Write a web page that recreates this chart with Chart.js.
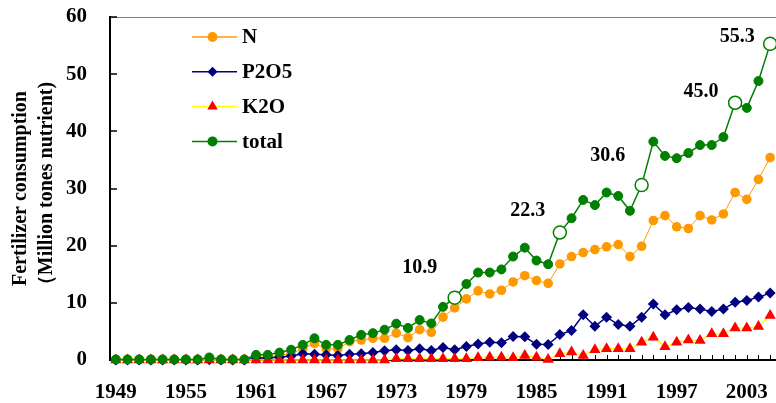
<!DOCTYPE html>
<html>
<head>
<meta charset="utf-8">
<script src="https://cdn.jsdelivr.net/npm/chart.js@4.4.0/dist/chart.umd.min.js"></script>
<style>
  html, body { margin:0; padding:0; background:#fff; }
  #wrap { width:776px; height:403px; position:relative; }
</style>
</head>
<body>
<div id="wrap"><canvas id="chartFert"></canvas></div>
<script>
// ================================
// Fertilizer consumption 1949-2005
// ================================
const years = [];
for (let yr = 1949; yr <= 2005; yr++) years.push(yr);

const tickYears = [1949,1955,1961,1967,1973,1979,1985,1991,1997,2003];

// Million tones nutrient
const nData = [
  0.1,0.1,0.1,0.1,0.1,0.1,0.1,0.1,0.3,0.1,0.1,0.1,
  0.6,0.5,0.8,1.1,1.95,2.9,1.95,1.95,3.2,3.5,3.8,3.8,
  4.7,3.9,5.3,4.85,7.5,9.1,10.7,12.1,11.55,12.2,13.65,14.75,13.9,13.4,
  16.8,18.1,18.8,19.3,19.8,20.2,18.1,19.9,24.4,25.25,23.3,23.0,
  25.25,24.5,25.55,29.3,28.1,31.6,35.4
];
const pData = [
  0.02,0.02,0.02,0.02,0.02,0.02,0.02,0.02,0.05,0.02,0.02,0.02,
  0.3,0.4,0.5,0.7,1.1,1.0,0.9,0.8,1.0,1.1,1.3,1.6,
  1.8,1.65,1.95,1.65,2.2,1.8,2.35,2.8,3.1,3.0,4.1,4.05,2.75,2.7,
  4.45,5.15,7.9,5.9,7.5,6.2,5.9,7.5,9.8,7.9,8.8,9.2,
  8.9,8.5,8.9,10.1,10.4,11.0,11.7
];
const kData = [
  0,0,0,0,0,0,0,0,0,0,0,0,
  0,0,0,0,0,0,0,0,0,0,0,0,
  0.2,0.2,0.2,0.2,0.2,0.2,0.2,0.4,0.5,0.5,0.4,0.8,0.5,0.1,
  1.1,1.4,0.8,1.8,1.95,1.95,1.95,3.1,4.0,2.3,3.1,3.5,
  3.4,4.6,4.6,5.6,5.6,5.85,7.8
];
const totalData = [
  0.1,0.1,0.1,0.1,0.1,0.1,0.1,0.1,0.45,0.1,0.1,0.1,
  0.9,0.9,1.3,1.8,2.65,3.8,2.65,2.65,3.5,4.4,4.7,5.3,
  6.35,5.6,7.0,6.4,9.3,10.9,13.3,15.3,15.3,15.85,18.1,19.65,17.4,16.75,
  22.3,24.8,28.0,27.1,29.3,28.7,26.1,30.6,38.2,35.7,35.3,36.2,
  37.6,37.6,39.0,45.0,44.1,48.8,55.3
];

// highlighted totals
const markYears = [1978,1987,1994,2002,2005];
const markTexts = ["10.9","22.3","30.6","45.0","55.3"];
const markOffsets = [[-35,-30],[-32,-22],[-34,-29],[-34,-11],[-33,-7]];

const SERIF = "'Liberation Serif','Times New Roman',serif";

const markIdx = markYears.map(y => years.indexOf(y));
const totalRadius = years.map((y,i) => markIdx.includes(i) ? 6.5 : 4.5);
const totalFill = years.map((y,i) => markIdx.includes(i) ? "#ffffff" : "#008000");
const totalBw = years.map((y,i) => markIdx.includes(i) ? 1.5 : 1);

const legendItems = [
  { text:"N",    line:"#FF9900", fill:"#FF9900", style:"circle" },
  { text:"P2O5", line:"#000080", fill:"#000080", style:"diamond" },
  { text:"K2O",  line:"#FFFF00", fill:"#FF0000", style:"triangle" },
  { text:"total",line:"#008000", fill:"#008000", style:"circle" }
];

function marker(ctx, style, x, y, r) {
  ctx.beginPath();
  if (style === "circle") {
    ctx.arc(x, y, r, 0, Math.PI*2);
  } else if (style === "diamond") {
    ctx.moveTo(x, y-r); ctx.lineTo(x+r, y); ctx.lineTo(x, y+r); ctx.lineTo(x-r, y);
    ctx.closePath();
  } else {
    ctx.moveTo(x, y-r); ctx.lineTo(x+r*0.87, y+r*0.5); ctx.lineTo(x-r*0.87, y+r*0.5);
    ctx.closePath();
  }
  ctx.fill();
}

// frame + inward ticks (behind the marks)
const framePlugin = {
  id:"frame",
  beforeDatasetsDraw(chart) {
    const { ctx, chartArea:a, scales:{ x, y } } = chart;
    ctx.save();
    ctx.strokeStyle = "#808080";
    ctx.lineWidth = 1;
    ctx.beginPath();
    ctx.moveTo(a.left, a.top + 0.5);
    ctx.lineTo(a.right, a.top + 0.5);
    ctx.stroke();

    ctx.strokeStyle = "#000";
    ctx.lineWidth = 1.5;
    y.ticks.forEach(t => {
      const py = Math.round(y.getPixelForValue(t.value));
      ctx.beginPath();
      ctx.moveTo(a.left, py);
      ctx.lineTo(a.left + 7, py);
      ctx.stroke();
    });

    ctx.lineWidth = 1;
    years.forEach((yr, i) => {
      const px = Math.round(x.getPixelForValue(i)) + 0.5;
      ctx.beginPath();
      ctx.moveTo(px, a.bottom);
      ctx.lineTo(px, a.bottom - 5);
      ctx.stroke();
    });
    ctx.restore();
  }
};

// value labels + legend (on top)
const notePlugin = {
  id:"notes",
  afterDatasetsDraw(chart) {
    const { ctx, chartArea:a, scales:{ x, y } } = chart;
    ctx.save();
    ctx.fillStyle = "#000";
    ctx.font = "bold 20px " + SERIF;
    ctx.textAlign = "center";
    ctx.textBaseline = "middle";
    markIdx.forEach((idx, k) => {
      const px = x.getPixelForValue(idx);
      const py = y.getPixelForValue(totalData[idx]);
      ctx.fillText(markTexts[k], px + markOffsets[k][0], py + markOffsets[k][1]);
    });

    // legend
    const lx = a.left + 82, ly = a.top + 20;
    legendItems.forEach((it, i) => {
      const yy = ly + i * 34.8;
      ctx.strokeStyle = it.line;
      ctx.lineWidth = 1.5;
      ctx.beginPath();
      ctx.moveTo(lx, yy);
      ctx.lineTo(lx + 45, yy);
      ctx.stroke();
      ctx.fillStyle = it.fill;
      marker(ctx, it.style, lx + 20.5, yy, it.style === "triangle" ? 6 : 5);
      ctx.fillStyle = "#000";
      ctx.textAlign = "left";
      ctx.font = "bold 21px " + SERIF;
      ctx.fillText(it.text, lx + 50, yy + 1);
    });
    ctx.restore();
  }
};

const ctx = document.getElementById("chartFert");

new Chart(ctx, {
  type:"line",
  data:{
    labels: years,
    datasets:[
      { label:"total", data:totalData, borderColor:"#008000", borderWidth:1.5,
        pointStyle:"circle", pointRadius:totalRadius, pointBackgroundColor:totalFill,
        pointBorderColor:"#008000", pointBorderWidth:totalBw, clip:false },
      { label:"K2O", data:kData, borderColor:"#FFFF00", borderWidth:1.5,
        pointStyle:"triangle", pointRadius:6.5, pointBackgroundColor:"#FF0000",
        pointBorderColor:"#FF0000", pointBorderWidth:0, clip:false },
      { label:"P2O5", data:pData, borderColor:"#000080", borderWidth:1.5,
        pointStyle:"rectRot", pointRadius:5.5, pointBackgroundColor:"#000080",
        pointBorderColor:"#000080", pointBorderWidth:0, clip:false },
      { label:"N", data:nData, borderColor:"#FF9900", borderWidth:1,
        pointStyle:"circle", pointRadius:4.8, pointBackgroundColor:"#FF9900",
        pointBorderColor:"#FF9900", pointBorderWidth:0, clip:false }
    ]
  },
  options:{
    responsive:true,
    maintainAspectRatio:false,
    animation:false,
    events:[],
    layout:{ autoPadding:false, padding:{ top:17, right:0, left:0, bottom:0 } },
    elements:{ line:{ tension:0 } },
    plugins:{
      legend:{ display:false },
      tooltip:{ enabled:false }
    },
    scales:{
      x:{
        type:"category",
        offset:true,
        grid:{ display:false, drawTicks:false },
        border:{ display:true, color:"#000", width:2 },
        ticks:{
          autoSkip:false, maxRotation:0, padding:20, color:"#000",
          font:{ family:SERIF, size:21, weight:"bold" },
          callback:function(v, i) {
            const yr = years[i];
            return tickYears.includes(yr) ? String(yr) : "";
          }
        },
        afterFit:function(s){ s.height = 43; s.paddingLeft = 0; s.paddingRight = 0; }
      },
      y:{
        min:0, max:60,
        grid:{ display:false, drawTicks:false },
        border:{ display:true, color:"#000", width:2 },
        ticks:{ stepSize:10, padding:23, color:"#000",
          font:{ family:SERIF, size:21, weight:"bold" } },
        title:{
          display:true,
          text:["Fertilizer consumption", "（Million tones nutrient)"],
          color:"#000",
          font:{ family:SERIF, size:20, weight:"bold", lineHeight:1.3 },
          padding:{ top:8, bottom:0 }
        },
        afterFit:function(s){ s.width = 110; s.paddingTop = 0; s.paddingBottom = 0; }
      }
    }
  },
  plugins:[framePlugin, notePlugin]
});
</script>
</body>
</html>
